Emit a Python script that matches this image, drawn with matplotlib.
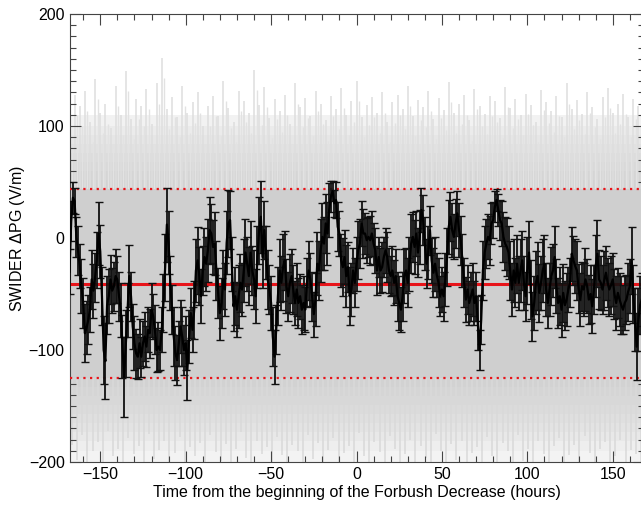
import numpy as np
import matplotlib
matplotlib.use("Agg")
import matplotlib.pyplot as plt
from matplotlib.ticker import MultipleLocator

plt.rcParams['font.family'] = ['Liberation Sans', 'DejaVu Sans']

# hours relative to the onset of the Forbush decrease
hours = np.arange(-168, 168)

# superposed-epoch mean of the potential gradient (V/m), one value per hour
pg_mean = [
    -30, 15, 36, 33, 1, -11, -25, -43, -58, -85,
    -80, -73, -64, -37, -47, -35, -20, 4, -12, -52,
    -100, -110, -60, -52, -37, -47, -43, -34, -37, -52,
    -64, -97, -124, -94, -64, -34, -52, -79, -94, -103,
    -106, -94, -106, -94, -88, -97, -82, -85, -64, -70,
    -82, -100, -97, -100, -82, -58, -26, 12, -4, -40,
    -64, -88, -103, -109, -94, -79, -88, -100, -94, -118,
    -88, -67, -82, -64, -29, -20, -34, -52, -29, -17,
    -23, -11, 7, 4, -8, -5, -29, -49, -67, -58,
    -37, -46, -4, 13, 16, -23, -61, -52, -64, -52,
    -40, -46, -29, -13, -23, -34, -13, -29, -37, -52,
    -17, 7, 19, -17, 7, -13, -37, -46, -58, -88,
    -106, -82, -52, -29, -40, -26, -20, -43, -52, -40,
    -34, -46, -58, -46, -58, -52, -64, -58, -64, -40,
    -29, -37, -52, -68, -55, -23, -29, -11, 1, -5,
    13, 4, 25, 37, 42, 31, 34, 10, 4, -20,
    -26, -17, -34, -26, -52, -46, -29, -40, -23, -11,
    -5, 13, 4, 4, -2, 1, -2, 4, -5, -11,
    -29, -17, -29, -26, -17, -11, -17, -29, -34, -29,
    -40, -34, -52, -58, -64, -52, -34, -29, -40, -23,
    -5, 1, -8, 4, -13, 1, 25, 16, -5, -23,
    -13, 7, -20, -31, -23, -33, -40, -52, -46, -52,
    -37, -17, 10, 19, 7, 1, 13, 22, 7, -2,
    -20, -40, -55, -46, -58, -52, -46, -58, -52, -76,
    -100, -73, -29, -13, -5, 1, -2, 13, 16, 28,
    34, 25, 16, 13, 1, -5, -8, -13, -29, -46,
    -29, -40, -23, -40, -29, -20, -40, -52, -29, -13,
    -46, -70, -58, -40, -34, -49, -40, -29, -23, -46,
    -58, -46, -34, -29, -17, -43, -58, -52, -64, -49,
    -60, -55, -46, -40, -14, -20, -25, -29, -45, -55,
    -43, -46, -37, -43, -55, -50, -61, -46, -25, -14,
    -37, -40, -46, -38, -31, -40, -46, -42, -37, -50,
    -58, -49, -55, -60, -64, -58, -55, -48, -43, -20,
    -50, -73, -97, -73, -60, -55,
]

# standard error of the hourly mean (V/m)
pg_err = [
    20, 18, 14, 12, 18, 22, 20, 24, 22, 26,
    24, 22, 20, 26, 24, 22, 25, 28, 24, 26,
    30, 34, 26, 24, 22, 20, 22, 24, 21, 22,
    24, 28, 36, 30, 24, 28, 22, 20, 24, 22,
    20, 22, 18, 20, 22, 18, 20, 22, 24, 20,
    22, 20, 22, 18, 20, 26, 30, 33, 28, 24,
    22, 26, 24, 22, 20, 24, 26, 22, 24, 27,
    24, 22, 20, 26, 28, 30, 26, 24, 22, 26,
    24, 28, 30, 26, 24, 28, 26, 22, 24, 22,
    26, 24, 28, 30, 26, 24, 22, 26, 24, 28,
    26, 24, 28, 30, 24, 26, 28, 22, 26, 24,
    28, 30, 32, 28, 26, 24, 26, 22, 24, 26,
    24, 22, 26, 28, 24, 30, 26, 24, 22, 26,
    24, 22, 20, 24, 22, 20, 22, 24, 20, 22,
    26, 24, 22, 20, 24, 28, 26, 28, 30, 24,
    26, 28, 24, 14, 9, 12, 16, 22, 20, 24,
    26, 24, 28, 22, 26, 24, 20, 22, 24, 26,
    22, 20, 22, 18, 20, 18, 22, 20, 18, 20,
    22, 18, 20, 22, 18, 20, 22, 20, 18, 22,
    20, 24, 22, 24, 20, 22, 24, 20, 22, 24,
    26, 22, 24, 20, 22, 24, 20, 22, 24, 22,
    24, 22, 20, 22, 24, 20, 22, 18, 20, 22,
    24, 26, 24, 22, 24, 20, 22, 20, 24, 22,
    24, 22, 20, 22, 20, 22, 24, 20, 22, 24,
    18, 22, 26, 24, 22, 20, 22, 18, 16, 14,
    10, 14, 18, 20, 22, 24, 26, 24, 26, 24,
    28, 22, 26, 24, 28, 26, 24, 22, 30, 28,
    26, 22, 24, 28, 30, 26, 24, 28, 26, 24,
    22, 24, 26, 24, 28, 24, 22, 26, 24, 26,
    22, 24, 20, 22, 24, 22, 24, 26, 22, 24,
    22, 24, 28, 24, 22, 26, 24, 22, 28, 30,
    26, 24, 22, 26, 24, 22, 24, 26, 24, 22,
    24, 22, 24, 26, 22, 24, 22, 26, 24, 30,
    26, 28, 30, 28, 26, 24,
]

# long-term mean and +/- 2 sigma of the background (V/m)
bg_mean = -41
bg_upper = 44
bg_lower = -125

# spread of the individual hourly values, every 3 hours
cloud_hours = np.arange(-168, 168, 3)
cloud_top = [
    95, 128, 118, 131, 104, 142, 112, 120, 98, 136,
    110, 149, 106, 124, 118, 133, 102, 138, 161, 115,
    126, 108, 136, 112, 121, 130, 100, 118, 127, 109,
    140, 116, 104, 131, 122, 112, 150, 119, 135, 107,
    124, 113, 128, 102, 138, 117, 125, 109, 131, 120,
    105, 127, 115, 134, 110, 122, 140, 108, 119, 126,
    112, 130, 104, 121, 128, 115, 136, 109, 123, 117,
    131, 106, 125, 114, 139, 112, 120, 128, 105, 133,
    118, 111, 127, 122, 107, 135, 116, 124, 110, 129,
    119, 104, 132, 121, 113, 127, 108, 138, 115, 123,
    111, 130, 117, 106, 126, 134, 112, 120, 129, 108,
    124, 118,
]
cloud_bottom = [
    -185, -198, -176, -200, -190, -182, -200, -172, -195, -188,
    -200, -179, -193, -186, -200, -175, -197, -189, -181, -200,
    -192, -178, -200, -187, -195, -183, -200, -176, -191, -199,
    -184, -200, -188, -173, -196, -200, -181, -193, -187, -200,
    -178, -194, -200, -185, -190, -200, -176, -197, -183, -200,
    -189, -179, -200, -192, -186, -200, -174, -195, -200, -182,
    -191, -200, -177, -188, -200, -193, -180, -200, -186, -196,
    -200, -175, -190, -200, -184, -198, -181, -200, -192, -187,
    -200, -178, -195, -200, -183, -190, -200, -176, -199, -188,
    -200, -181, -193, -200, -186, -179, -200, -194, -185, -200,
    -177, -192, -200, -188, -182, -200, -195, -180, -200, -189,
    -193, -200,
]

fig = plt.figure(figsize=(6.41, 5.08), dpi=100)
ax = fig.add_axes([69.5 / 641, 46 / 508, 574 / 641, 448 / 508])

# grey cloud of the individual values: soft gradient plus spikes on top
up_edges = [44, 52, 60, 68, 76, 84, 92, 100, 110]
up_cols = ['#d2d2d2', '#d5d5d5', '#d9d9d9', '#dcdcdc', '#e1e1e1', '#e6e6e6', '#ebebeb', '#f2f2f2']
for i in range(len(up_cols)):
    ax.fill_between([-168, 168], up_edges[i], up_edges[i + 1], color=up_cols[i], lw=0, zorder=1)
lo_edges = [-125, -133, -141, -149, -157, -165, -173, -181, -190, -200]
lo_cols = ['#d2d2d2', '#d5d5d5', '#d8d8d8', '#dbdbdb', '#dfdfdf', '#e3e3e3', '#e8e8e8', '#eeeeee', '#f3f3f3']
for i in range(len(lo_cols)):
    ax.fill_between([-168, 168], lo_edges[i + 1], lo_edges[i], color=lo_cols[i], lw=0, zorder=1)
ax.vlines(cloud_hours, bg_upper, cloud_top, color='#dedede', lw=1.1, zorder=1.5)
ax.vlines(cloud_hours + 1.5, bg_upper, np.array(cloud_top) - 18, color='#e2e2e2', lw=1.0, zorder=1.5)
ax.vlines(cloud_hours + 1.5, cloud_bottom, bg_lower, color='#d9d9d9', lw=1.1, zorder=1.5)
ax.fill_between([-168, 168], bg_lower, bg_upper, color='#cfcfcf', lw=0, zorder=2)

# background mean and limits
ax.axhline(bg_mean, color='#e8141a', lw=2.2, zorder=3)
ax.axhline(bg_upper, color='#e8141a', lw=1.6, ls=(0, (1, 2)), zorder=3)
ax.axhline(bg_lower, color='#e8141a', lw=1.6, ls=(0, (1, 2)), zorder=3)

# SWIDER mean with error bars
ax.errorbar(hours, pg_mean, yerr=pg_err, color='black', lw=1.6,
            ecolor='#111111', elinewidth=1.3, capsize=3, capthick=1.0, zorder=4)

ax.set_xlim(-168, 168)
ax.set_ylim(-200, 200)
ax.set_xticks([-150, -100, -50, 0, 50, 100, 150])
ax.set_yticks([-200, -100, 0, 100, 200])
ax.xaxis.set_minor_locator(MultipleLocator(10))
ax.yaxis.set_minor_locator(MultipleLocator(10))
ax.tick_params(which='both', direction='in', top=True, right=True, labelsize=11.5, color='#444444')
ax.tick_params(which='major', length=8, width=0.8)
ax.tick_params(which='minor', length=4, width=0.8)
for s in ax.spines.values():
    s.set_color('#444444')
    s.set_linewidth(0.8)

ax.set_xlabel('Time from the beginning of the Forbush Decrease (hours)', fontsize=11.5, labelpad=2)
ax.set_ylabel('SWIDER $\\Delta$PG (V/m)', fontsize=11.5, labelpad=1)

fig.savefig('out.png', dpi=100)
